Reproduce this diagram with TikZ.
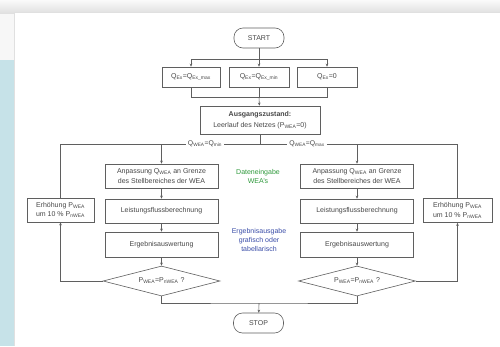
\documentclass[tikz,border=0pt]{standalone}
\usepackage{fontspec}
\setmainfont{Liberation Sans}
\usepackage{xcolor}
\usepackage{tikz}
\usetikzlibrary{shapes.geometric,arrows.meta}

\definecolor{linegray}{HTML}{5F5F5F}
\definecolor{txtgray}{HTML}{474747}
\definecolor{panelblue}{HTML}{C6E2E8}
\definecolor{datagreen}{HTML}{2F9A3C}
\definecolor{outblue}{HTML}{3A4DA8}

\newcommand{\ix}[1]{\textsubscript{#1}}

\tikzset{
  box/.style={draw=linegray, line width=0.6pt, fill=white, text=txtgray,
    align=center, inner sep=1pt, minimum height=24pt,
    font=\fontsize{7}{9.5}\selectfont},
  term/.style={box, rounded corners=9pt, minimum width=50pt, minimum height=20pt},
  decide/.style={box, diamond, aspect=3.8, minimum width=117pt,
    minimum height=30pt, inner sep=0pt},
  edge/.style={draw=linegray, line width=0.6pt},
  arr/.style={edge, -{Stealth[length=3pt,width=2.6pt]}},
  tag/.style={text=txtgray, fill=white, inner sep=2pt,
    font=\fontsize{6.8}{9}\selectfont},
  note/.style={align=center, inner sep=1pt, font=\fontsize{7}{9}\selectfont}
}

\begin{document}
\begin{tikzpicture}[x=1pt,y=-1pt]
\useasboundingbox (0,0) rectangle (500,346);
% page behind the card
\fill[black!3] (0,0) rectangle (500,346);
\shade[top color=black!2, bottom color=black!12] (0,0) rectangle (500,13);
\fill[panelblue] (0,60) rectangle (15,346);
\fill[black!12] (14,12) rectangle (500,346);
\fill[white] (15,13) rectangle (500,346);

% start and the three variants of Q_Ex
\node[term] (start) at (259,38) {START};
\node[box, minimum width=58pt, minimum height=20pt] (qhigh) at (191,77) {Q\ix{Ex}=Q\ix{Ex\_max}};
\node[box, minimum width=60pt, minimum height=20pt] (qlow) at (259,77) {Q\ix{Ex}=Q\ix{Ex\_min}};
\node[box, minimum width=60pt, minimum height=20pt] (qnull) at (327,77) {Q\ix{Ex}=0};
\coordinate (fork) at (259,59);
\coordinate (merge) at (259,97);
\draw[edge] (start) -- (fork);
\draw[arr] (fork) -| (qhigh);
\draw[arr] (fork) -- (qlow);
\draw[arr] (fork) -| (qnull);
\draw[edge] (qhigh) |- (merge);
\draw[edge] (qnull) |- (merge);
\draw[edge] (qlow) -- (merge);

\node[box, minimum width=120pt, minimum height=28pt] (init) at (260,120)
  {\textbf{Ausgangszustand:}\\[2pt]Leerlauf des Netzes (P\ix{WEA}=0)};
\draw[arr] (merge) -- (init);

% the two branches
\node[tag] (minlbl) at (205,144) {Q\ix{WEA}=Q\ix{min}};
\node[tag] (maxlbl) at (307,144) {Q\ix{WEA}=Q\ix{max}};
\coordinate (split) at (init.south |- minlbl);
\draw[edge] (init) -- (split);

\foreach \s/\x in {L/161.5,R/357}{
  \node[box, minimum width=113pt] (adj\s) at (\x,176)
    {Anpassung Q\ix{WEA} an Grenze\\des Stellbereiches der WEA};
  \node[box, minimum width=113pt] (flow\s) at (\x,211) {Leistungsflussberechnung};
  \node[box, minimum width=113pt, minimum height=25pt] (eval\s) at (\x,244.5) {Ergebnisauswertung};
  \node[decide] (dec\s) at (\x,281) {P\ix{WEA}=P\ix{nWEA} ?};
  \coordinate (tap\s) at (adj\s.north |- split);
  \draw[arr] (tap\s) -- (adj\s);
  \draw[arr] (adj\s) -- (flow\s);
  \draw[arr] (flow\s) -- (eval\s);
  \draw[arr] (eval\s) -- (dec\s);
}

% power increase loops
\node[box, minimum width=67pt] (incL) at (60.5,210) {Erhöhung P\ix{WEA}\\um 10 \% P\ix{nWEA}};
\node[box, minimum width=69pt] (incR) at (457.5,210.5) {Erhöhung P\ix{WEA}\\um 10 \% P\ix{nWEA}};
\draw[edge] (incL.north) |- (minlbl.west);
\draw[edge] (minlbl.east) -- (maxlbl.west);
\draw[edge] (maxlbl.east) -| (incR.north);
\draw[arr] (decL.west) -| (incL.south);
\draw[arr] (decR.east) -| (incR.south);

% notes between the columns
\node[note, text=datagreen] (datain) at (258,176) {Dateneingabe\\WEA's};
\node[note, text=outblue] (dataout) at (259,240) {Ergebnisausgabe\\grafisch oder\\tabellarisch};

% end
\node[term] (stop) at (258.5,323) {STOP};
\coordinate (join) at (259,303);
\draw[edge] (decL.south) |- (join) -| (decR.south);
\draw[arr] (join) -- (stop);
\end{tikzpicture}
\end{document}
